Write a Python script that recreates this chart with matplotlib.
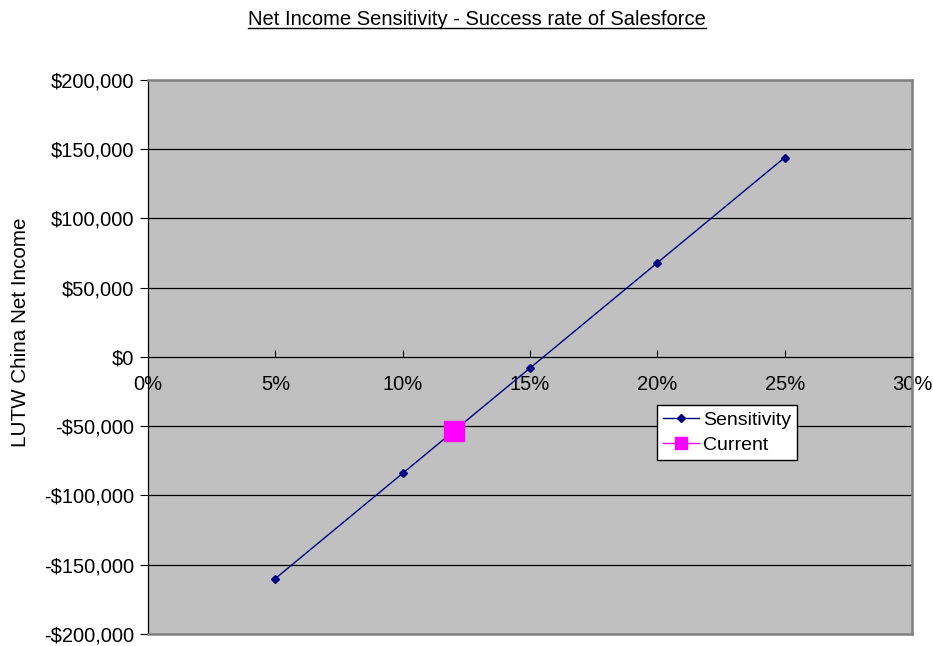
import matplotlib
matplotlib.use("Agg")
import matplotlib.pyplot as plt
from matplotlib.lines import Line2D
from matplotlib.ticker import FuncFormatter

plt.rcParams['font.family'] = ['Liberation Sans', 'DejaVu Sans']

rates = [0.05, 0.10, 0.15, 0.20, 0.25]
net_income = [-160000, -84000, -8000, 68000, 144000]
current_rate = [0.12]
current_income = [-53500]
title = "Net Income Sensitivity - Success rate of Salesforce"
ylabel = "LUTW China Net Income"

fig = plt.figure(figsize=(9.33, 6.46), dpi=100)
ax = fig.add_axes([0.1586, 0.0186, 0.8189, 0.8576])
ax.set_facecolor('#c0c0c0')
ax.set_xlim(0, 0.30)
ax.set_ylim(-200000, 200000)
ax.set_xticks([0, 0.05, 0.10, 0.15, 0.20, 0.25, 0.30])
ax.set_yticks(range(-200000, 200001, 50000))
ax.xaxis.set_major_formatter(FuncFormatter(lambda v, p: f"{round(v*100)}%"))

def money(v, p):
    v = int(round(v))
    if v < 0:
        return f"-${-v:,}"
    return f"${v:,}"
ax.yaxis.set_major_formatter(FuncFormatter(money))

for y in range(-150000, 200000, 50000):
    if y != 0:
        ax.axhline(y, color='black', lw=0.9, zorder=1)

ax.spines['bottom'].set_position(('data', 0))
ax.spines['bottom'].set_color('black')
ax.spines['bottom'].set_linewidth(0.9)
ax.spines['left'].set_color('black')
ax.spines['left'].set_linewidth(0.9)
ax.spines['top'].set_color('#808080')
ax.spines['top'].set_linewidth(1.8)
ax.spines['right'].set_color('#808080')
ax.spines['right'].set_linewidth(1.8)
ax.axhline(-200000, color='#808080', lw=1.8, zorder=3, clip_on=False)

ax.tick_params(axis='x', direction='in', length=5, labelsize=14.5, pad=13, color='black')
ax.tick_params(axis='y', direction='out', length=6, labelsize=14.5, pad=4)

ax.plot(rates, net_income, color='#000080', lw=1.0, marker='D', markersize=4.5,
        label='Sensitivity', zorder=4)
ax.plot(current_rate, current_income, color='#ff00ff', lw=1.0, marker='s', markersize=14,
        linestyle='none', label='Current', zorder=5)

leg_handles = [
    Line2D([], [], color='#000080', lw=1.0, marker='D', markersize=4.5),
    Line2D([], [], color='#ff00ff', lw=1.0, marker='s', markersize=8),
]
leg = ax.legend(leg_handles, ['Sensitivity', 'Current'], loc='upper left',
                bbox_to_anchor=(0.666, 0.413), borderaxespad=0, fontsize=14,
                frameon=True, fancybox=False, framealpha=1, edgecolor='black',
                handlelength=1.85, handletextpad=0.25, labelspacing=0.4,
                borderpad=0.3)
leg.get_frame().set_linewidth(1.0)

ax.set_ylabel(ylabel, fontsize=14.9)
ax.yaxis.set_label_coords(-0.154, 0.545)

t = fig.text(0.511, 0.962, title, ha='center', va='baseline', fontsize=14.5)
fig.canvas.draw()
bb = t.get_window_extent(fig.canvas.get_renderer())
W, H = fig.bbox.width, fig.bbox.height
fig.add_artist(Line2D([bb.x0 / W, bb.x1 / W], [(bb.y0 + 1) / H, (bb.y0 + 1) / H],
                      color='black', lw=1.0))

fig.savefig('out.png', dpi=100)
